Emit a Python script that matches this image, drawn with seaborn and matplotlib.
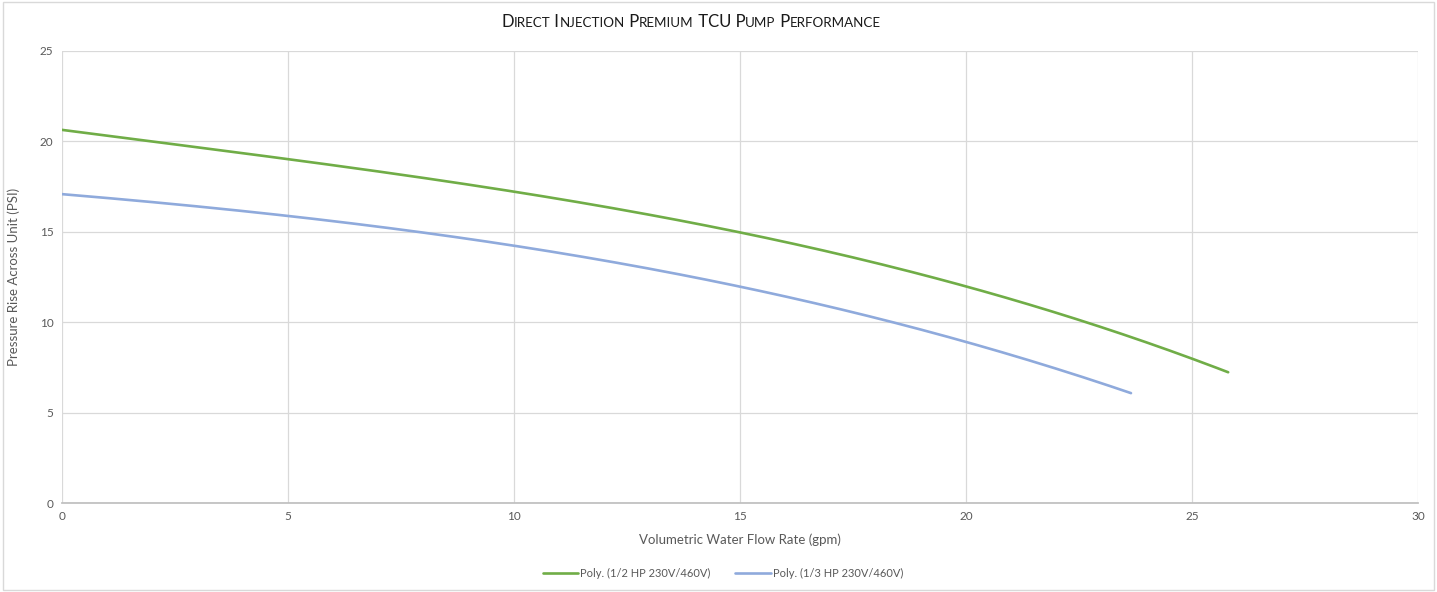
import matplotlib
matplotlib.use("Agg")
import matplotlib.pyplot as plt
import seaborn as sns
import pandas as pd
import numpy as np

# Data (polynomial trendline curves)
flow_half = [0, 2.5, 5, 7.5, 10, 12.5, 15, 17.5, 20, 22.5, 25, 25.8]
psi_half = [20.65, 19.85, 18.95, 18.15, 17.25, 16.2, 15.0, 13.55, 11.95, 10.1, 8.05, 7.2]
flow_third = [0, 2.5, 5, 7.5, 10, 12.5, 15, 17.5, 20, 22.5, 23.65]
psi_third = [17.05, 16.6, 15.85, 15.1, 14.2, 13.2, 12.0, 10.55, 8.9, 7.0, 6.1]
series_names = ["Poly. (1/2 HP 230V/460V)", "Poly. (1/3 HP 230V/460V)"]
x_ticks = [0, 5, 10, 15, 20, 25, 30]
y_ticks = [0, 5, 10, 15, 20, 25]
title = "Direct Injection Premium TCU Pump Performance"

sns.set_theme(style="white")
plt.rcParams['font.family'] = ['Lato', 'DejaVu Sans']

def smooth(xs, ys, deg=3):
    c = np.polyfit(xs, ys, deg)
    xx = np.linspace(min(xs), max(xs), 200)
    return xx, np.polyval(c, xx)

frames = []
for name, xs, ys in [(series_names[0], flow_half, psi_half), (series_names[1], flow_third, psi_third)]:
    xx, yy = smooth(xs, ys)
    frames.append(pd.DataFrame({"flow": xx, "psi": yy, "series": name}))
df = pd.concat(frames)

fig = plt.figure(figsize=(14.37, 5.92), dpi=100)
ax = fig.add_axes([0.0431, 0.1503, 0.9437, 0.7636])

sns.lineplot(data=df, x="flow", y="psi", hue="series", sort=False,
             palette=["#70ad47", "#8faadc"], linewidth=1.9, ax=ax, estimator=None)

ax.set_xlim(0, 30)
ax.set_ylim(0, 25)
ax.set_xticks(x_ticks)
ax.set_yticks(y_ticks)
ax.grid(True, color="#d9d9d9", linewidth=0.9)
for s in ["top", "right", "left"]:
    ax.spines[s].set_visible(False)
ax.spines["bottom"].set_color("#bfbfbf")
ax.tick_params(axis="both", labelsize=8.5, colors="#595959", length=0, pad=6)
ax.set_xlabel("Volumetric Water Flow Rate (gpm)", fontsize=9.5, color="#595959", labelpad=8)
ax.set_ylabel("Pressure Rise Across Unit (PSI)", fontsize=9.5, color="#595959", labelpad=14)

# Small-caps title built from pieces
pieces = []
for ch in title:
    if ch.islower():
        pieces.append((ch.upper(), 9.6))
    else:
        pieces.append((ch, 12))
runs = []
for t, s in pieces:
    if runs and runs[-1][1] == s:
        runs[-1][0] += t
    else:
        runs.append([t, s])
renderer = fig.canvas.get_renderer()
texts = []
for t, s in runs:
    txt = fig.text(0, 0.965, t, fontsize=s, color="#1a1a1a", ha="left", va="baseline")
    texts.append(txt)
widths = [tx.get_window_extent(renderer).width for tx in texts]
total = sum(widths)
x0 = 691 - total / 2
ycap = 1 - 27 / 592
for tx, w in zip(texts, widths):
    tx.set_position((x0 / fig.bbox.width, ycap))
    x0 += w

leg = ax.legend(loc="center", bbox_to_anchor=(0.4875, -0.155), ncol=2, frameon=False,
                fontsize=8, handlelength=3.2, columnspacing=2.2, handletextpad=0.2)
for t in leg.get_texts():
    t.set_color("#595959")

fig.patches.append(plt.Rectangle((0.002, 0.004), 0.996, 0.992, transform=fig.transFigure,
                                 fill=False, edgecolor="#d9d9d9", linewidth=1))

fig.savefig("out.png", dpi=100)
